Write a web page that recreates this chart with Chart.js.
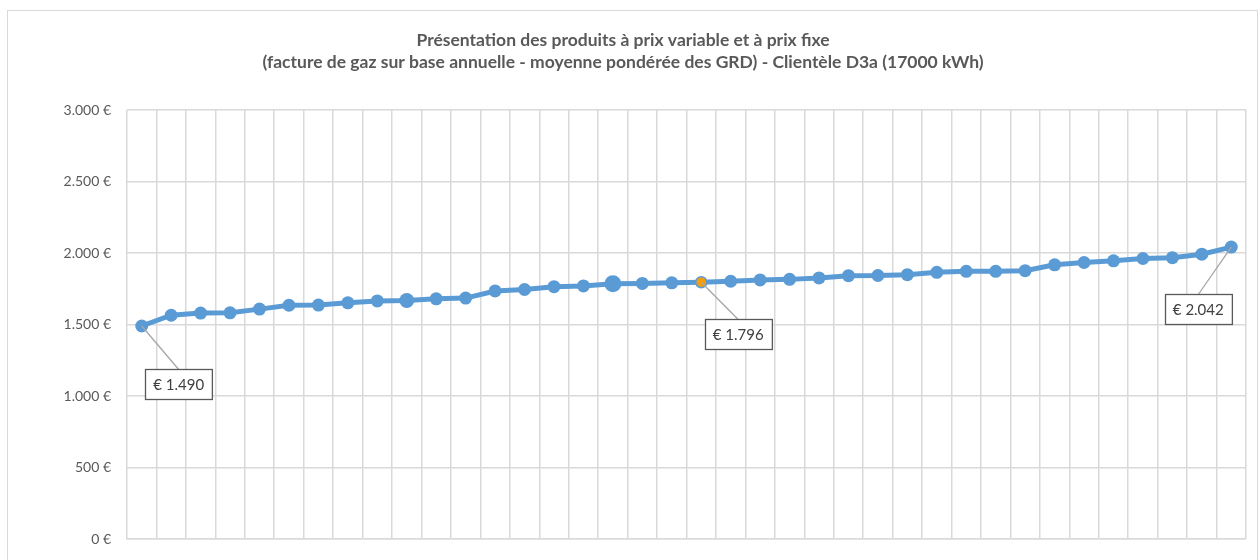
<!DOCTYPE html>
<html>
<head>
<meta charset="utf-8">
<script src="https://cdn.jsdelivr.net/npm/chart.js@4/dist/chart.umd.min.js"></script>
<style>
  html, body { margin: 0; padding: 0; background: #fff; }
  #wrap { width: 1260px; height: 560px; position: relative; }
</style>
</head>
<body>
<div id="wrap"><canvas id="chart" width="1260" height="560"></canvas></div>
<script>
// produits (38 offres, triées par prix)
const produits = Array.from({ length: 38 }, (_, i) => "Produit " + (i + 1));
const factureAnnuelle = [
  1490, 1565, 1580, 1582, 1608, 1635, 1636, 1652, 1665, 1668,
  1680, 1685, 1735, 1745, 1765, 1770, 1785, 1788, 1792, 1796,
  1803, 1812, 1816, 1826, 1842, 1843, 1849, 1865, 1872, 1872,
  1877, 1918, 1934, 1946, 1962, 1968, 1992, 2042
];
const yTicks = [0, 500, 1000, 1500, 2000, 2500, 3000];
const titre = [
  "Présentation des produits à prix variable et à prix fixe",
  "(facture de gaz sur base annuelle - moyenne pondérée des GRD) - Clientèle D3a (17000 kWh)"
];
// étiquettes affichées : index du point, décalage de la boîte
const etiquettes = [
  { index: 0, dx: 37, dy: 58 },
  { index: 19, dx: 37, dy: 52 },
  { index: 37, dx: -33, dy: 62 }
];

const couleurs = factureAnnuelle.map((_, i) => i === 19 ? "#f59d0e" : "#5b9bd5");
const rayons = factureAnnuelle.map((_, i) => (i === 9 ? 7.5 : i === 16 ? 8.5 : i === 19 ? 5.5 : 6.5));

const fmt = v => v.toString().replace(/\B(?=(\d{3})+(?!\d))/g, ".");

const cadre = {
  id: "cadre",
  beforeDraw(chart) {
    const c = chart.ctx;
    c.save();
    c.fillStyle = "#fff";
    c.fillRect(0, 0, chart.width, chart.height);
    c.strokeStyle = "#d9d9d9";
    c.lineWidth = 1;
    c.strokeRect(7.5, 10.5, 1250, 600);
    c.restore();
  }
};

const bulles = {
  id: "bulles",
  afterDatasetsDraw(chart) {
    const c = chart.ctx;
    const meta = chart.getDatasetMeta(0);
    c.save();
    c.font = "15px Lato, sans-serif";
    c.textBaseline = "middle";
    c.textAlign = "center";
    etiquettes.forEach(e => {
      const p = meta.data[e.index];
      const txt = "€ " + fmt(factureAnnuelle[e.index]);
      const w = c.measureText(txt).width + 16;
      const h = 30;
      const cx = p.x + e.dx, cy = p.y + e.dy;
      const bx = Math.round(cx - w / 2) + 0.5, by = Math.round(cy - h / 2) + 0.5;
      // trait de rappel
      c.strokeStyle = "#a6a6a6";
      c.lineWidth = 1.3;
      c.beginPath();
      c.moveTo(p.x, p.y);
      c.lineTo(cx, by);
      c.stroke();
      c.fillStyle = "#fff";
      c.fillRect(bx, by, w, h);
      c.strokeStyle = "#595959";
      c.lineWidth = 1.3;
      c.strokeRect(bx, by, w, h);
      c.fillStyle = "#404040";
      c.fillText(txt, cx, by + h / 2 + 1);
    });
    c.restore();
  }
};

new Chart(document.getElementById("chart"), {
  type: "line",
  data: {
    labels: produits,
    datasets: [{
      data: factureAnnuelle,
      borderColor: "#5b9bd5",
      borderWidth: 5,
      pointBackgroundColor: couleurs,
      pointBorderColor: "#5b9bd5",
      pointBorderWidth: factureAnnuelle.map((_, i) => i === 19 ? 1.5 : 0),
      pointRadius: rayons,
      tension: 0
    }]
  },
  options: {
    responsive: false,
    animation: false,
    layout: { padding: { left: 0, right: 14, top: 0, bottom: 21 } },
    plugins: {
      legend: { display: false },
      tooltip: { enabled: false },
      title: {
        display: true,
        text: titre,
        color: "#595959",
        font: { family: "Lato, sans-serif", size: 17.5, weight: "bold", lineHeight: 1.26 },
        padding: { top: 29, bottom: 37 }
      }
    },
    scales: {
      x: {
        offset: true,
        afterFit(axis) { axis.height = 0; },
        grid: { offset: true, color: "#d9d9d9", lineWidth: 1.5, drawTicks: false },
        border: { display: true, color: "#d9d9d9", width: 1.5 },
        ticks: { display: false }
      },
      y: {
        min: 0,
        max: 3000,
        afterBuildTicks(axis) { axis.ticks = yTicks.map(v => ({ value: v })); },
        afterFit(axis) { axis.width = 127; axis.paddingTop = 0; axis.paddingBottom = 0; },
        grid: { color: "#d9d9d9", lineWidth: 1.5, drawTicks: false },
        border: { display: false },
        ticks: {
          padding: 16,
          color: "#595959",
          font: { family: "Lato, sans-serif", size: 14 },
          callback: v => fmt(v) + " €"
        }
      }
    }
  },
  plugins: [cadre, bulles]
});
</script>
</body>
</html>
